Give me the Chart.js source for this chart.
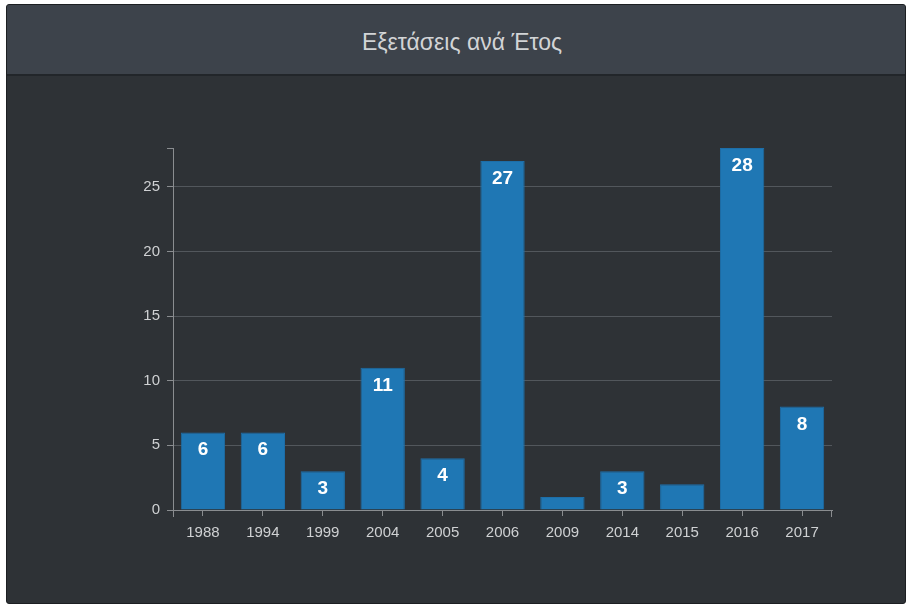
<!DOCTYPE html>
<html>
<head>
<meta charset="utf-8">
<script src="https://cdn.jsdelivr.net/npm/chart.js@4"></script>
<style>
  html, body { margin: 0; padding: 0; background: #ffffff; }
  #panel {
    position: absolute; left: 6px; top: 4px; width: 898px; height: 598px;
    background: #2e3236; border: 1px solid #1c1f22; border-radius: 3px; overflow: hidden;
  }
  #header {
    height: 71px; background: #3d434b; border-bottom: 2px solid #22262a;
    color: #d2d4d6; font-family: "Liberation Sans", Arial, sans-serif; font-size: 23px;
    line-height: 74px; text-align: center; padding-left: 12px; box-sizing: border-box; width: 100%;
  }
  #wrap { position: absolute; left: 0; top: 71px; width: 898px; height: 527px; }
</style>
</head>
<body>
<div id="panel">
  <div id="header">Εξετάσεις ανά Έτος</div>
  <div id="wrap"><canvas id="canvas"></canvas></div>
</div>
<script>
// data
var years = ['1988', '1994', '1999', '2004', '2005', '2006', '2009', '2014', '2015', '2016', '2017']
var counts = [6, 6, 3, 11, 4, 27, 1, 3, 2, 28, 8]
var yTicks = [0, 5, 10, 15, 20, 25]
var yMax = 28

Chart.defaults.font.family = '"Liberation Sans", Arial, sans-serif'

// labels inside the bars, only where the bar is tall enough
var barLabels = {
    id: 'barLabels',
    afterDatasetsDraw: function(chart) {
        var ctx = chart.ctx
        var meta = chart.getDatasetMeta(0)
        ctx.save()
        ctx.fillStyle = '#ffffff'
        ctx.font = 'bold 19px "Liberation Sans", Arial, sans-serif'
        ctx.textAlign = 'center'
        ctx.textBaseline = 'alphabetic'
        meta.data.forEach(function(bar, i) {
            if (counts[i] < 3) return
            ctx.fillText(counts[i], bar.x, bar.y + 23)
        })
        ctx.restore()
    }
}

// d3-style outer ticks at both ends of the x axis
var outerTicks = {
    id: 'outerTicks',
    afterDraw: function(chart) {
        var ctx = chart.ctx
        var a = chart.chartArea
        ctx.save()
        ctx.strokeStyle = '#8a8d90'
        ctx.lineWidth = 1
        ctx.beginPath()
        ctx.moveTo(a.left + 0.5, a.bottom)
        ctx.lineTo(a.left + 0.5, a.bottom + 7)
        ctx.moveTo(a.right - 0.5, a.bottom)
        ctx.lineTo(a.right - 0.5, a.bottom + 7)
        ctx.stroke()
        ctx.restore()
    }
}

var canvas = document.getElementById('canvas')
var ctx = canvas.getContext('2d')
var config = {
    type: 'bar',
    data: {
        labels: years,
        datasets: [{
            data: counts,
            backgroundColor: '#1f77b4',
            borderColor: '#1d6ea8',
            borderWidth: 1,
            categoryPercentage: 1,
            barPercentage: 0.74
        }]
    },
    options: {
        responsive: true,
        maintainAspectRatio: false,
        animation: false,
        layout: { padding: { left: 126, right: 73, top: 72, bottom: 63 } },
        plugins: { legend: { display: false }, tooltip: { enabled: false } },
        scales: {
            x: {
                afterFit: function(scale) { scale.height = 30 },
                border: { color: '#8a8d90', width: 1 },
                grid: { drawOnChartArea: false, offset: false, tickLength: 6, tickColor: '#8a8d90' },
                ticks: { color: '#cfd1d3', font: { size: 15 }, padding: 8, maxRotation: 0 }
            },
            y: {
                min: 0,
                max: yMax,
                afterFit: function(scale) { scale.width = 40 },
                afterBuildTicks: function(scale) {
                    scale.ticks = yTicks.concat([yMax]).map(function(v) { return { value: v } })
                },
                border: { color: '#8a8d90', width: 1 },
                grid: {
                    color: function(c) {
                        var v = c.tick ? c.tick.value : 0
                        return (v === 0 || v === yMax) ? 'rgba(0,0,0,0)' : '#52575c'
                    },
                    tickLength: 6,
                    tickColor: '#8a8d90'
                },
                ticks: {
                    color: '#cfd1d3',
                    font: { size: 15 },
                    padding: 7,
                    callback: function(v) { return v === yMax ? '' : v }
                }
            }
        }
    },
    plugins: [barLabels, outerTicks]
}
var myChart = new Chart(ctx, config)
</script>
</body>
</html>
